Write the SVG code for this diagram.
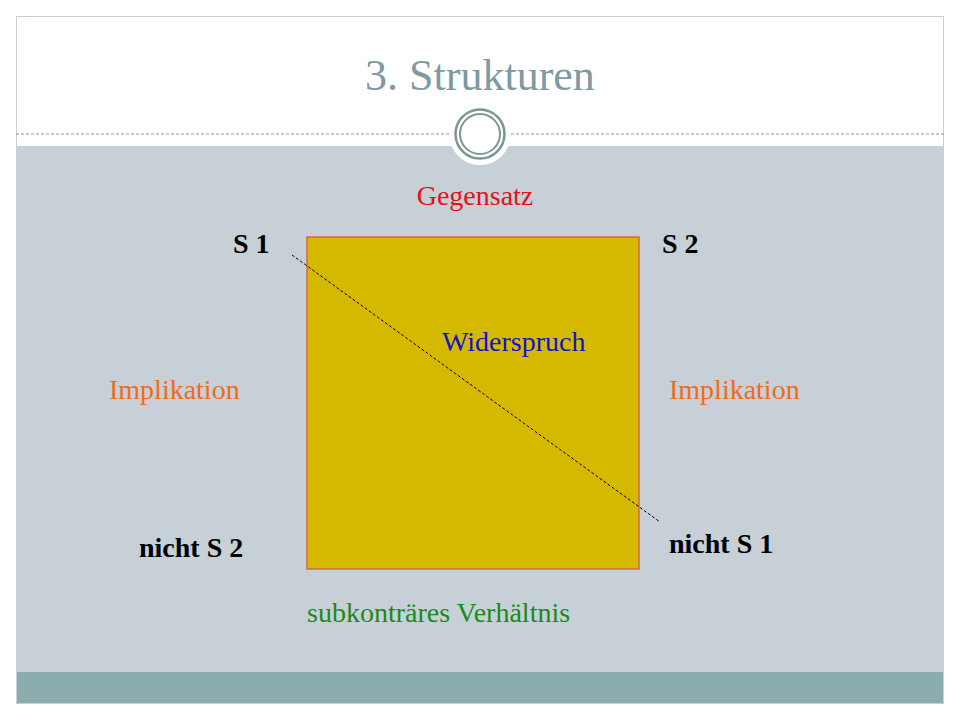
<svg xmlns="http://www.w3.org/2000/svg" width="960" height="720" viewBox="0 0 960 720">
<style>
.s{font-family:"Liberation Serif",serif;font-size:28px}
.b{font-family:"Liberation Serif",serif;font-size:28px;font-weight:bold;fill:#000}
</style>
<rect width="960" height="720" fill="#fff"/>
<rect x="16" y="146" width="928" height="526" fill="#c6d0d6"/>
<rect x="16" y="672" width="928" height="32" fill="#8aacad"/>
<rect x="16.5" y="16.5" width="927" height="687" fill="none" stroke="#c8d0d4"/>
<line x1="16" y1="134" x2="944" y2="134" stroke="#8a9a9c" stroke-dasharray="3,2"/>
<g id="emblem">
<circle cx="480" cy="134" r="31" fill="#fff"/>
<circle cx="480" cy="134" r="24.5" fill="none" stroke="#7d9596" stroke-width="2.5"/>
<circle cx="480" cy="134" r="20" fill="none" stroke="#7d9596" stroke-width="2"/>
</g>
<text x="480" y="90" text-anchor="middle" font-family="Liberation Serif,serif" font-size="44" fill="#7e9aa0">3. Strukturen</text>
<g id="square"><rect x="307" y="237" width="332" height="332" fill="#d4b900" stroke="#d9664a" stroke-width="1.5"/></g>
<g id="connectors"><line x1="292" y1="255" x2="660" y2="522" stroke="#000" stroke-dasharray="3,2"/></g>
<g id="labels">
<text class="s" x="475" y="205" text-anchor="middle" fill="#e8101a">Gegensatz</text>
<text class="b" x="233" y="253">S 1</text>
<text class="b" x="662" y="253">S 2</text>
<text class="s" x="442" y="351" fill="#1212cc">Widerspruch</text>
<text class="s" x="109" y="399" fill="#f06a1e">Implikation</text>
<text class="s" x="669" y="399" fill="#f06a1e">Implikation</text>
<text class="b" x="139" y="557">nicht S 2</text>
<text class="b" x="669" y="553">nicht S 1</text>
<text class="s" x="307" y="622" fill="#1a8a1a">subkonträres Verhältnis</text>
</g>
</svg>
